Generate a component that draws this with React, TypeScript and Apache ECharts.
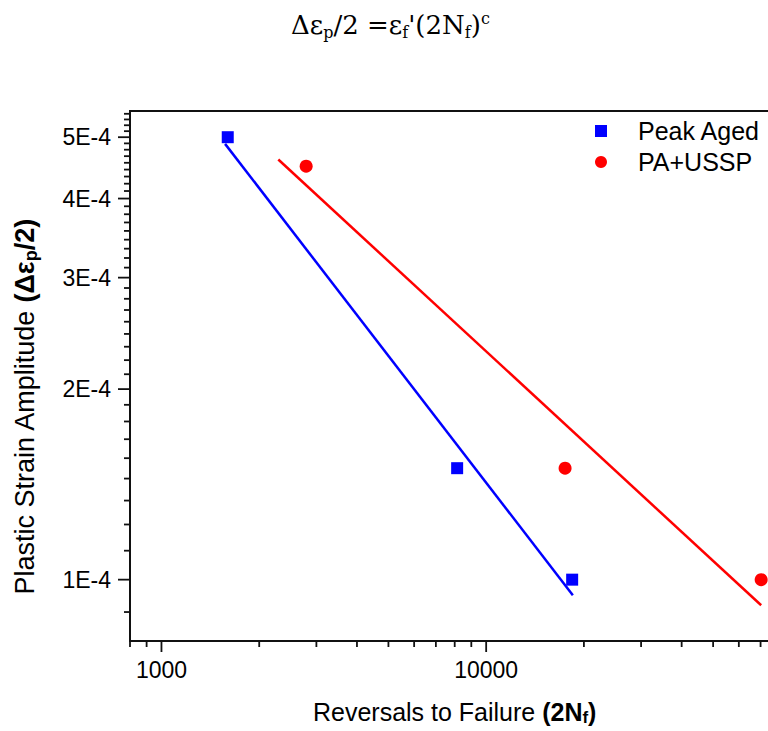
import React, { useEffect, useRef } from "react";
import * as echarts from "echarts";

// ---- data ----
const peakAgedReversals = [1600, 8140, 18400];
const peakAgedStrain = [5.0e-4, 1.5e-4, 1.0e-4];
const usspReversals = [2790, 17500, 70300];
const usspStrain = [4.5e-4, 1.5e-4, 1.0e-4];

const peakAgedFitReversals = [1570, 18490];
const peakAgedFitStrain = [4.88e-4, 0.945e-4];
const usspFitReversals = [2290, 70300];
const usspFitStrain = [4.61e-4, 0.911e-4];

// ---- axes ----
const X_MIN = 800;
const X_MAX = 80000;
const Y_MIN = 8e-5;
const Y_MAX = 5.5e-4;

const xMajorTicks = [1000, 10000];
const xMajorLabels = ["1000", "10000"];
const xMinorTicks = [800, 900, 2000, 3000, 4000, 5000, 6000, 7000, 8000, 9000, 20000, 30000, 40000, 50000, 60000, 70000];

const yMajorTicks = [1e-4, 2e-4, 3e-4, 4e-4, 5e-4];
const yMajorLabels = ["1E-4", "2E-4", "3E-4", "4E-4", "5E-4"];
const yMinorTicks: number[] = [];
for (let m = 0; m <= 5; m++) {
  for (let k = 1; k <= 8; k++) {
    const v = (m + k / 9) * 1e-4;
    if (v >= Y_MIN && v <= Y_MAX) yMinorTicks.push(v);
  }
}

const SANS = "'Liberation Sans', Arial, Helvetica, sans-serif";
const SERIF = "'DejaVu Serif', 'Liberation Serif', serif";
const AXIS_COLOR = "#111";

export default function App() {
  const ref = useRef<HTMLDivElement>(null);

  useEffect(() => {
    if (!ref.current) return;
    const chart = echarts.init(ref.current, undefined, { renderer: "svg" });

    const yTickData = [
      ...yMajorTicks.map((v, i) => [X_MIN, v, 1, i]),
      ...yMinorTicks.map((v) => [X_MIN, v, 0, -1]),
    ];
    const xTickData = [
      ...xMajorTicks.map((v, i) => [v, Y_MIN, 1, i]),
      ...xMinorTicks.map((v) => [v, Y_MIN, 0, -1]),
    ];

    const titleRich = {
      rich: {
        a: { fontFamily: SERIF, fontSize: 26, fontWeight: "normal", color: "#000", lineHeight: 30 },
        sub: { fontFamily: SERIF, fontSize: 16, fontWeight: "normal", color: "#000", lineHeight: 12, verticalAlign: "bottom" },
        sup: { fontFamily: SERIF, fontSize: 16, fontWeight: "normal", color: "#000", lineHeight: 18, verticalAlign: "top" },
      },
    };

    const makeNameRich = (size: number) => ({
      n: { fontFamily: SANS, fontSize: size, color: "#000", lineHeight: size + 3 },
      b: { fontFamily: SANS, fontSize: size, fontWeight: "bold", color: "#000", lineHeight: size + 3 },
      bs: { fontFamily: SANS, fontSize: Math.round(size * 0.68), fontWeight: "bold", color: "#000", lineHeight: Math.round(size * 0.56), verticalAlign: "bottom" },
    });

    const option: any = {
      animation: false,
      backgroundColor: "#fff",
      title: {
        text: "{a|Δε}{sub|p}{a|/2 =ε}{sub|f}{a|'(2N}{sub|f}{a|)}{sup|c}",
        left: 286,
        top: 5,
        textStyle: { fontWeight: "normal", ...titleRich },
      },
      legend: {
        data: ["Peak Aged", "PA+USSP"],
        orient: "vertical",
        left: 590,
        top: 113,
        itemWidth: 12,
        itemHeight: 12,
        itemGap: 5,
        textStyle: { fontFamily: SANS, fontSize: 25, color: "#000", lineHeight: 26, padding: [0, 0, 0, 26] },
      },
      grid: {
        left: 130,
        top: 111,
        bottom: 87,
        right: 10.6,
        show: true,
        borderColor: AXIS_COLOR,
        borderWidth: 2,
        backgroundColor: "transparent",
      },
      xAxis: {
        type: "log",
        logBase: 10,
        min: X_MIN,
        max: X_MAX,
        axisLine: { show: true, onZero: false, lineStyle: { color: AXIS_COLOR, width: 2 } },
        axisTick: { show: false },
        axisLabel: { show: false },
        splitLine: { show: false },
        minorTick: { show: false },
        name: "{n|Reversals to Failure }{b|(2N}{bs|f}{b|)}",
        nameLocation: "middle",
        nameGap: 57,
        nameTextStyle: { rich: makeNameRich(25) },
      },
      yAxis: {
        type: "log",
        logBase: 10,
        min: Y_MIN,
        max: Y_MAX,
        axisLine: { show: true, onZero: false, lineStyle: { color: AXIS_COLOR, width: 2 } },
        axisTick: { show: false },
        axisLabel: { show: false },
        splitLine: { show: false },
        minorTick: { show: false },
        name: "{n|Plastic Strain Amplitude }{b|(Δε}{bs|p}{b|/2)}",
        nameLocation: "middle",
        nameGap: 90,
        nameTextStyle: { padding: [0, 62, 0, 0], rich: makeNameRich(27) },
      },
      series: [
        {
          name: "Peak Aged fit",
          type: "line",
          data: peakAgedFitReversals.map((x, i) => [x, peakAgedFitStrain[i]]),
          showSymbol: false,
          symbol: "none",
          lineStyle: { color: "#0000ff", width: 2.5 },
          z: 2,
        },
        {
          name: "PA+USSP fit",
          type: "line",
          data: usspFitReversals.map((x, i) => [x, usspFitStrain[i]]),
          showSymbol: false,
          symbol: "none",
          lineStyle: { color: "#ff0000", width: 2.5 },
          z: 2,
        },
        {
          name: "Peak Aged",
          type: "scatter",
          symbol: "rect",
          symbolSize: 12,
          itemStyle: { color: "#0000ff", opacity: 1 },
          data: peakAgedReversals.map((x, i) => [x, peakAgedStrain[i]]),
          z: 4,
        },
        {
          name: "PA+USSP",
          type: "scatter",
          symbol: "circle",
          symbolSize: 13,
          itemStyle: { color: "#ff0000", opacity: 1 },
          data: usspReversals.map((x, i) => [x, usspStrain[i]]),
          z: 4,
        },
        {
          name: "yTicks",
          type: "custom",
          silent: true,
          clip: false,
          z: 5,
          data: yTickData,
          renderItem: (params: any, api: any) => {
            const v = api.value(1);
            const major = api.value(2) === 1;
            const idx = api.value(3);
            const p = api.coord([X_MIN, v]);
            const x0 = params.coordSys.x;
            const len = major ? 12 : 6;
            const children: any[] = [
              {
                type: "line",
                shape: { x1: x0 - len, y1: p[1], x2: x0, y2: p[1] },
                style: { stroke: AXIS_COLOR, lineWidth: 1.8 },
              },
            ];
            if (major) {
              children.push({
                type: "text",
                style: {
                  text: yMajorLabels[idx],
                  x: x0 - 19,
                  y: p[1],
                  align: "right",
                  verticalAlign: "middle",
                  fontFamily: SANS,
                  fontSize: 23,
                  fill: "#000",
                },
              });
            }
            return { type: "group", children };
          },
        },
        {
          name: "xTicks",
          type: "custom",
          silent: true,
          clip: false,
          z: 5,
          data: xTickData,
          renderItem: (params: any, api: any) => {
            const v = api.value(0);
            const major = api.value(2) === 1;
            const idx = api.value(3);
            const p = api.coord([v, Y_MIN]);
            const y0 = params.coordSys.y + params.coordSys.height;
            const len = major ? 11 : 6;
            const children: any[] = [
              {
                type: "line",
                shape: { x1: p[0], y1: y0, x2: p[0], y2: y0 + len },
                style: { stroke: AXIS_COLOR, lineWidth: 1.8 },
              },
            ];
            if (major) {
              children.push({
                type: "text",
                style: {
                  text: xMajorLabels[idx],
                  x: p[0],
                  y: y0 + 28.5,
                  align: "center",
                  verticalAlign: "middle",
                  fontFamily: SANS,
                  fontSize: 23,
                  fill: "#000",
                },
              });
            }
            return { type: "group", children };
          },
        },
      ],
    };

    chart.setOption(option);
    return () => chart.dispose();
  }, []);

  return (
    <div
      ref={ref}
      style={{ position: "fixed", left: 0, top: 0, width: 790, height: 731, background: "#fff" }}
    />
  );
}
